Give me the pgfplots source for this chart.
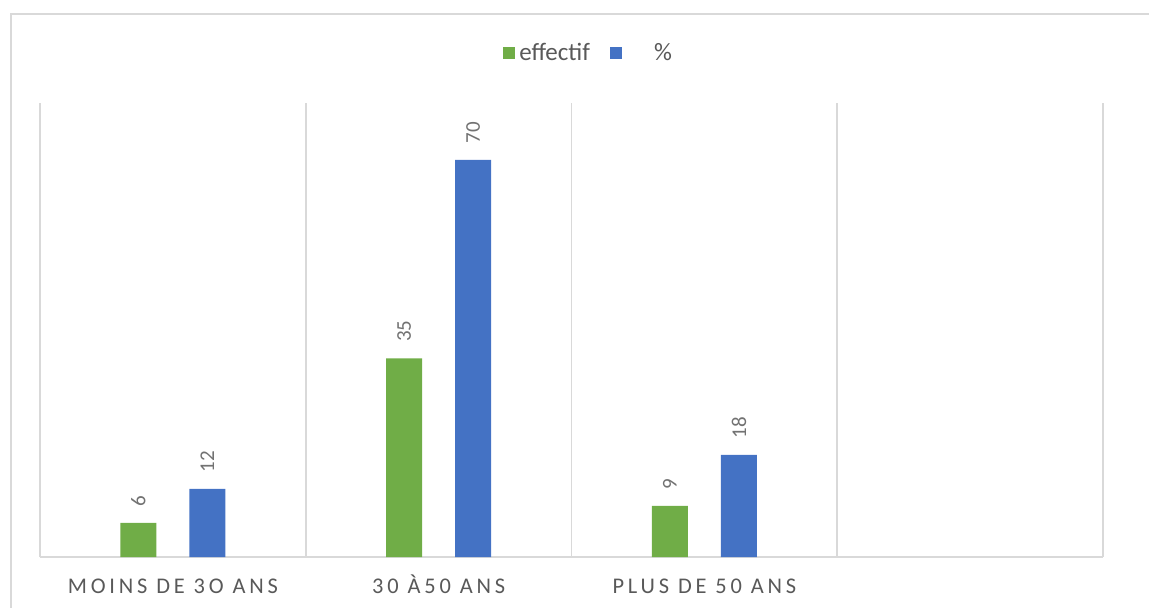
\documentclass[border=0pt]{standalone}
\usepackage{fontspec}
\setmainfont{Carlito}
\newfontfamily\spaced[LetterSpace=17]{Carlito}
\usepackage{pgfplots}
\pgfplotsset{compat=1.18}
\definecolor{cgreen}{HTML}{70AD47}
\definecolor{cblue}{HTML}{4472C4}
\definecolor{cgrid}{HTML}{D9D9D9}
\definecolor{ctext}{HTML}{595959}
\begin{document}
\begin{tikzpicture}
\useasboundingbox (0pt,0pt) rectangle (574.5pt,303.5pt);
\clip (0pt,0pt) rectangle (574.5pt,303.5pt);
\draw[cgrid, line width=1pt] (5.5pt,-10pt) -- (5.5pt,296.5pt) -- (590pt,296.5pt);
\begin{axis}[
  at={(20pt,25pt)}, anchor=south west,
  scale only axis, width=531.5pt, height=227pt,
  ybar, bar width=0.135,
  xmin=-0.5, xmax=3.5, ymin=0, ymax=80,
  axis y line=none,
  axis x line*=bottom,
  axis line style={cgrid, line width=0.8pt, -},
  xtick={0,1,2},
  xticklabels={MOINS DE 3O ANS, 30 À50 ANS, PLUS DE 50 ANS},
  minor xtick={-0.5,0.5,1.5,2.5,3.5},
  xminorgrids,
  minor grid style={cgrid, line width=0.8pt},
  major tick length=0pt, minor tick length=0pt,
  xticklabel style={font=\spaced\fontsize{11.2}{13}\selectfont, text=ctext, text height=9pt, text depth=2pt, yshift=-5.5pt},
  /pgf/number format/assume math mode=true,
  nodes near coords,
  every node near coord/.append style={rotate=90, anchor=west, font=\fontsize{10.5}{12}\selectfont, text=ctext!85, inner xsep=8pt},
  legend columns=2,
  legend style={at={(0.517,1.11)}, anchor=center, draw=none, fill=none,
    font=\fontsize{12.5}{14}\selectfont, text=ctext,
    /tikz/every even column/.append style={column sep=8pt}},
  legend image code/.code={\fill[#1] (-1.5pt,-3pt) rectangle (4.5pt,3pt);},
]
\addplot[fill=cgreen, draw=none, bar shift=-0.13] coordinates {(0,6) (1,35) (2,9)};
\addplot[fill=cblue, draw=none, bar shift=0.13] coordinates {(0,12) (1,70) (2,18)};
\legend{effectif, \hspace{14pt}\%}
\end{axis}
\end{tikzpicture}
\end{document}
